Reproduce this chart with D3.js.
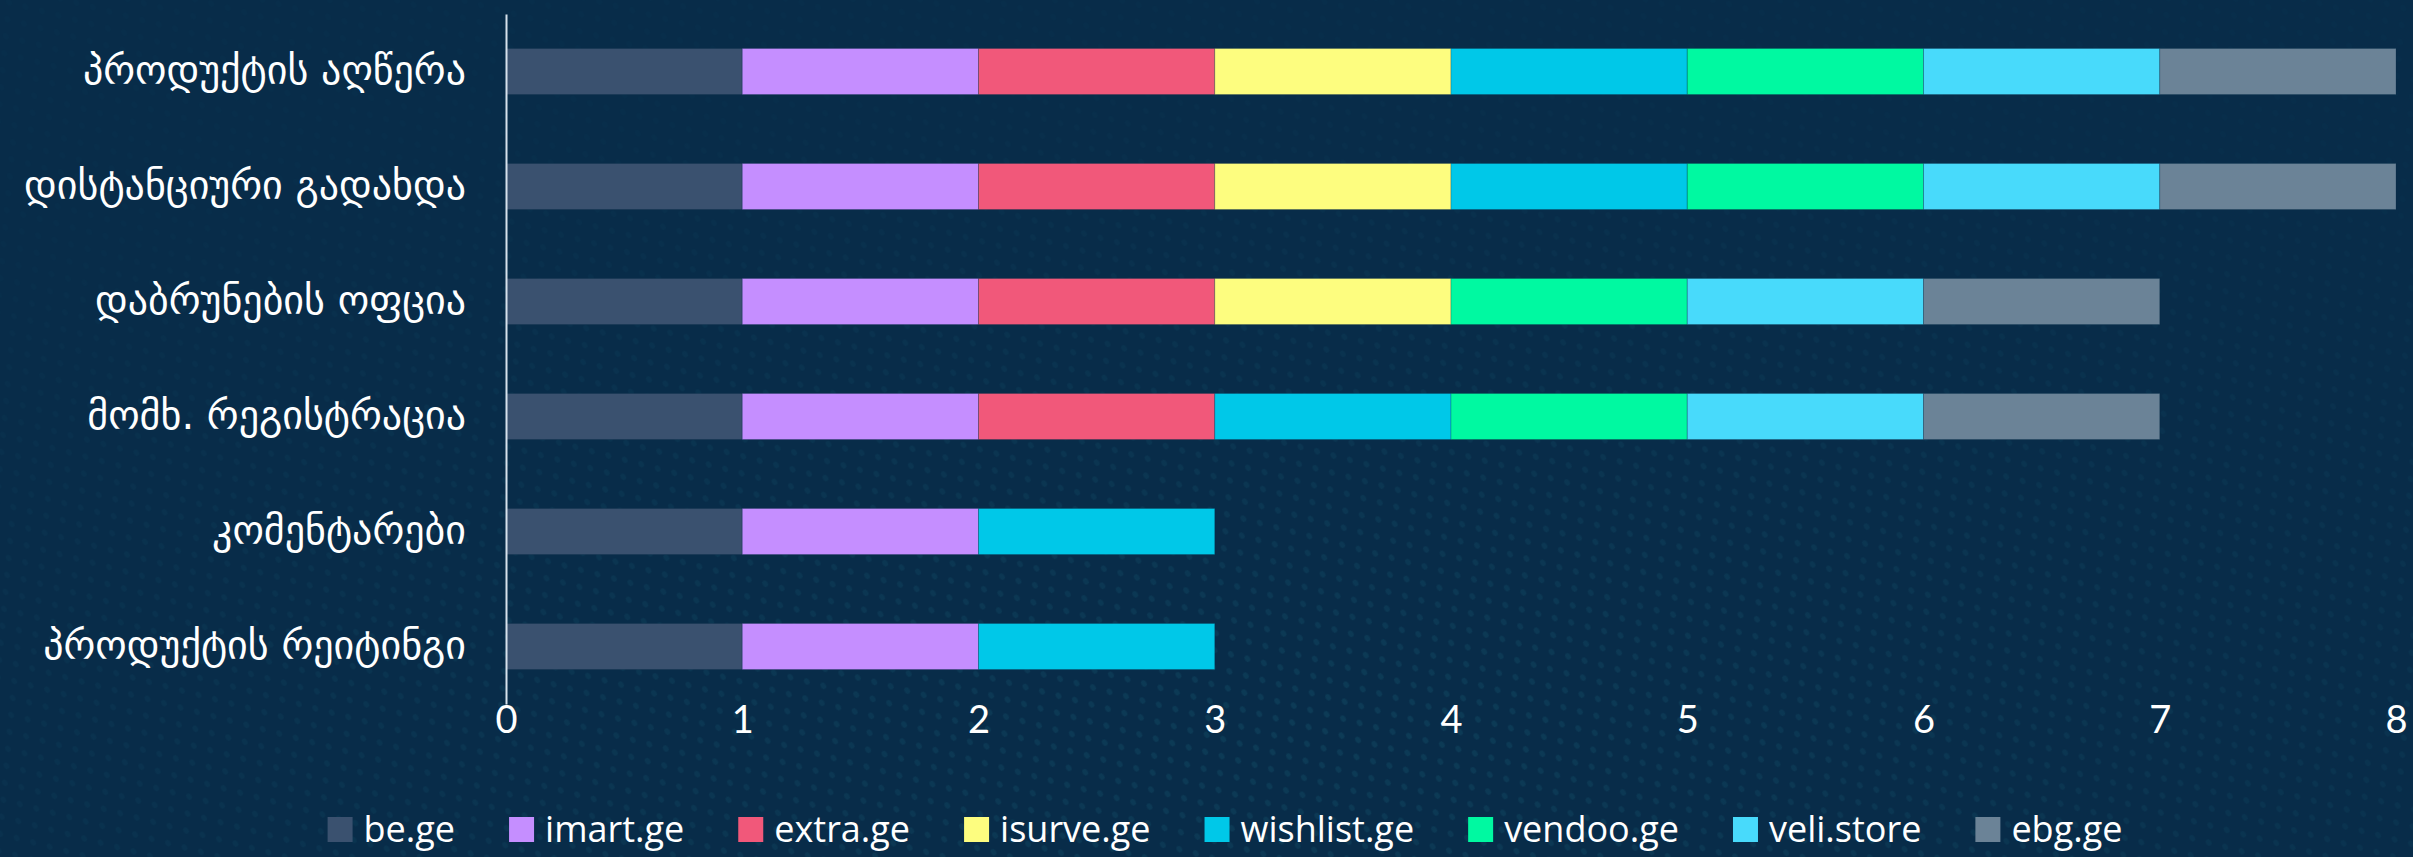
<!DOCTYPE html>
<html>
<head>
<meta charset="utf-8">
<script src="https://cdn.jsdelivr.net/npm/d3@7"></script>
<style>
  html, body { margin: 0; padding: 0; background: #082c49; overflow: hidden; }
</style>
</head>
<body>
<div class="chart-div"></div>
<script>

var width = 2413;
var height = 857;

// categories (top to bottom)
var categories = [
    "პროდუქტის აღწერა",
    "დისტანციური გადახდა",
    "დაბრუნების ოფცია",
    "მომხ. რეგისტრაცია",
    "კომენტარები",
    "პროდუქტის რეიტინგი"
];

var series = ["be.ge", "imart.ge", "extra.ge", "isurve.ge", "wishlist.ge", "vendoo.ge", "veli.store", "ebg.ge"];
var colors = ["#3a516f", "#c58eff", "#f1587a", "#fdfd7f", "#00c8e8", "#00f9a1", "#48dafb", "#6b8397"];

// values per series, one per category
var be_ge      = [1, 1, 1, 1, 1, 1];
var imart_ge   = [1, 1, 1, 1, 1, 1];
var extra_ge   = [1, 1, 1, 1, 0, 0];
var isurve_ge  = [1, 1, 1, 0, 0, 0];
var wishlist_ge = [1, 1, 0, 1, 1, 1];
var vendoo_ge  = [1, 1, 1, 1, 0, 0];
var veli_store = [1, 1, 1, 1, 0, 0];
var ebg_ge     = [1, 1, 1, 1, 0, 0];

var xTicks = [0, 1, 2, 3, 4, 5, 6, 7, 8];

var seriesValues = [be_ge, imart_ge, extra_ge, isurve_ge, wishlist_ge, vendoo_ge, veli_store, ebg_ge];

var table = categories.map(function (c, i) {
    var row = { cat: c };
    series.forEach(function (s, j) { row[s] = seriesValues[j][i]; });
    return row;
});

var stacked = d3.stack().keys(series)(table);

var svg = d3.select("div.chart-div")
    .append("svg")
    .attr("width", width)
    .attr("height", height)
    .style("display", "block")

//----------------------------- background

var defs = svg.append("defs")

var dots = defs.append("pattern")
    .attr("id", "dots")
    .attr("width", 22)
    .attr("height", 26)
    .attr("patternUnits", "userSpaceOnUse")
    .attr("patternTransform", "rotate(-35)")
dots.append("ellipse")
    .attr("cx", 6).attr("cy", 7).attr("rx", 2.6).attr("ry", 3.6)
    .attr("fill", "#1d6a80")
dots.append("ellipse")
    .attr("cx", 17).attr("cy", 20).attr("rx", 2.6).attr("ry", 3.6)
    .attr("fill", "#1d6a80")

var fade = defs.append("radialGradient")
    .attr("id", "fade")
    .attr("cx", "0.55").attr("cy", "0.85").attr("r", "0.75")
fade.append("stop").attr("offset", "0").attr("stop-color", "#fff").attr("stop-opacity", 0.45)
fade.append("stop").attr("offset", "0.6").attr("stop-color", "#fff").attr("stop-opacity", 0.22)
fade.append("stop").attr("offset", "1").attr("stop-color", "#fff").attr("stop-opacity", 0.08)

var mask = defs.append("mask").attr("id", "dotmask")
mask.append("rect")
    .attr("width", width).attr("height", height)
    .attr("fill", "url(#fade)")

svg.append("rect")
    .attr("width", width)
    .attr("height", height)
    .attr("fill", "#082c49")

svg.append("rect")
    .attr("width", width)
    .attr("height", height)
    .attr("fill", "url(#dots)")
    .attr("mask", "url(#dotmask)")
    .style("opacity", 0.55)

//----------------------------- scales

var x = d3.scaleLinear()
    .domain([0, 8])
    .range([506, 2396]);

var y = d3.scaleBand()
    .domain(categories)
    .range([14, 704])
    .paddingInner(0.6)
    .paddingOuter(0.3);

var color = d3.scaleOrdinal()
    .domain(series)
    .range(colors);

//----------------------------- bars

var g = svg.append("g")

g.selectAll("g.layer")
    .data(stacked)
    .enter()
    .append("g")
    .attr("class", "layer")
    .attr("fill", function (d) { return color(d.key); })
    .selectAll("rect")
    .data(function (d) { return d.filter(function (s) { return s[1] - s[0] > 0; }); })
    .enter()
    .append("rect")
    .attr("x", function (d) { return x(d[0]); })
    .attr("y", function (d) { return y(d.data.cat); })
    .attr("width", function (d) { return x(d[1]) - x(d[0]); })
    .attr("height", y.bandwidth())
    .attr("stroke", "rgba(8,44,73,0.25)")
    .attr("stroke-width", 1)

//----------------------------- axes

var yAxis = svg.append("g")
    .attr("transform", "translate(" + x(0) + ",0)")
    .call(d3.axisLeft(y).tickSize(0).tickPadding(40))

yAxis.select(".domain")
    .attr("stroke", "#d6e1ec")
    .attr("stroke-width", 2)

yAxis.selectAll("text")
    .attr("font-family", "DejaVu Sans, sans-serif")
    .attr("font-size", 40)
    .style("fill", "#ffffff")

var xAxis = svg.append("g")
    .attr("transform", "translate(0,704)")
    .call(d3.axisBottom(x).tickValues(xTicks).tickFormat(d3.format("d")).tickSize(0).tickPadding(2))

xAxis.select(".domain").remove()

xAxis.selectAll("text")
    .attr("font-family", "Lato, sans-serif")
    .attr("font-size", 38)
    .style("fill", "#ffffff")

//----------------------------- legend

var legend = svg.append("g")

var items = legend.selectAll("g.item")
    .data(series)
    .enter()
    .append("g")
    .attr("class", "item")

items.append("rect")
    .attr("x", 0)
    .attr("y", -12)
    .attr("width", 25)
    .attr("height", 25)
    .attr("fill", function (d) { return color(d); })

items.append("text")
    .attr("x", 36)
    .attr("y", 0)
    .attr("dy", "0.36em")
    .text(function (d) { return d; })
    .attr("font-family", "Open Sans, sans-serif")
    .attr("font-size", 36)
    .style("fill", "#ffffff")

var pos = 0;
items.each(function (d) {
    var w = d3.select(this).select("text").node().getComputedTextLength();
    d3.select(this).attr("transform", "translate(" + pos + ",0)");
    pos += 36 + w + 54;
});
var total = pos - 54;

legend.attr("transform", "translate(" + (1225 - total / 2) + ",829)")

</script>
</body>
</html>
